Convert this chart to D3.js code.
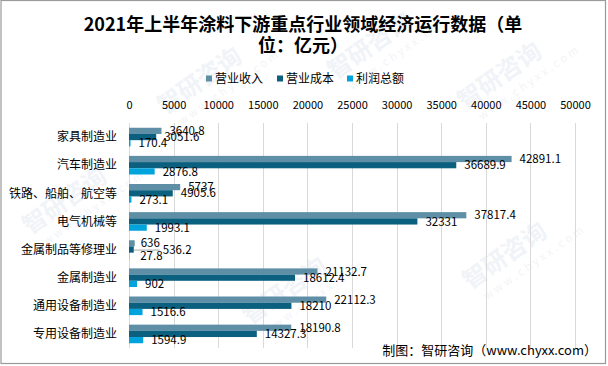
<!DOCTYPE html>
<html><head><meta charset="utf-8">
<script src="https://cdn.jsdelivr.net/npm/d3@7"></script>
<style>body{margin:0;background:#fff}svg{display:block}text{font-family:"Noto Sans CJK SC","Noto Sans",sans-serif}</style>
</head><body>
<svg id="c" width="608" height="366"></svg>
<script>
const categories = ["家具制造业","汽车制造业","铁路、船舶、航空等","电气机械等","金属制品等修理业","金属制造业","通用设备制造业","专用设备制造业"];
const seriesNames = ["营业收入","营业成本","利润总额"];
const revenue = [3640.8, 42891.1, 5737, 37817.4, 636, 21132.7, 22112.3, 18190.8];
const cost = [3051.6, 36689.9, 4905.6, 32331, 536.2, 18612.4, 18210, 14327.3];
const profit = [170.4, 2876.8, 273.1, 1993.1, 27.8, 902, 1516.6, 1594.9];
const tickValues = [0,5000,10000,15000,20000,25000,30000,35000,40000,45000,50000];
const colors = ["#5f8fa6","#0b5f7f","#00a3dc"];
const titleLines = ["2021年上半年涂料下游重点行业领域经济运行数据（单","位：亿元）"];
const footer = "制图：智研咨询（www.chyxx.com）";

const svg = d3.select("#c");

// faint watermarks
const wm = [[30,235],[165,115],[335,80],[465,110],[250,325],[470,290]];
wm.forEach(([x,y])=>{
  const g = svg.append("g").attr("transform",`translate(${x},${y}) rotate(-35)`).attr("opacity",0.45);
  g.append("text").attr("font-size",24).attr("font-weight","bold").attr("fill","#dfe6ee").text("智研咨询");
  g.append("text").attr("y",18).attr("x",8).attr("font-size",11).attr("letter-spacing",3).attr("fill","#e3e9f0").text("www.chyxx.com");
});

// border
svg.append("rect").attr("x",1).attr("y",0.5).attr("width",604.5).attr("height",363).attr("fill","none").attr("stroke","#9a9a9a").attr("stroke-width",1.2);

const x = d3.scaleLinear().domain([0,50000]).range([129,575]);
const y = d3.scaleBand().domain(categories).range([123,348]).paddingInner(0.338).paddingOuter(0.169);
const ys = d3.scaleBand().domain(seriesNames).range([0,y.bandwidth()]);

// gridlines
svg.append("g").selectAll("line").data(tickValues).join("line")
  .attr("x1",d=>Math.round(x(d))+0.5).attr("x2",d=>Math.round(x(d))+0.5)
  .attr("y1",123).attr("y2",348).attr("stroke","#d9d9d9").attr("stroke-width",1);

// top axis labels
const ax = d3.axisTop(x).tickValues(tickValues).tickSize(0).tickPadding(0).tickFormat(d3.format("d"));
const axg = svg.append("g").attr("transform","translate(0,109)").call(ax);
axg.select(".domain").remove();
axg.selectAll("text").attr("font-size",11).attr("fill","#000").attr("font-family","\"Noto Sans CJK SC\",sans-serif");

// category labels
svg.append("g").selectAll("text").data(categories).join("text")
  .attr("x",117).attr("y",d=>y(d)+y.bandwidth()/2).attr("dy","0.35em")
  .attr("text-anchor","end").attr("font-size",12).attr("fill","#000").text(d=>d);

const seriesData = [revenue,cost,profit];
const labelDx = {"金属制品等修理业":[6,29,11]};

seriesNames.forEach((s,si)=>{
  const vals = seriesData[si];
  const rows = categories.map((c,i)=>({c,v:vals[i]}));
  svg.append("g").selectAll("rect").data(rows).join("rect")
    .attr("x",x(0)).attr("y",d=>y(d.c)+ys(s))
    .attr("width",d=>x(d.v)-x(0)).attr("height",ys.bandwidth())
    .attr("fill",colors[si]);
  svg.append("g").selectAll("text").data(rows).join("text")
    .attr("x",d=>x(d.v)+((labelDx[d.c]||[8,8,8])[si]))
    .attr("y",d=>y(d.c)+ys(s)+ys.bandwidth()/2).attr("dy","0.36em")
    .attr("font-size",11.5).attr("fill","#000").text(d=>d.v);
  rows.forEach(d=>{
    const dx = (labelDx[d.c]||[8,8,8])[si];
    if(dx>20){
      const yy = y(d.c)+ys(s)+ys.bandwidth()/2+0.5;
      svg.append("line").attr("x1",x(d.v)).attr("x2",x(d.v)+dx-3).attr("y1",yy).attr("y2",yy)
        .attr("stroke","#a6a6a6").attr("stroke-width",1);
    }
  });
});

// title
svg.append("g").selectAll("text").data(titleLines).join("text")
  .attr("x",303).attr("y",(d,i)=>25+i*21).attr("dy","0.35em").attr("text-anchor","middle")
  .attr("font-size",18).attr("font-weight","bold").attr("fill","#000").text(d=>d);

// legend
const legX = [206,277,347];
const lg = svg.append("g").selectAll("g").data(seriesNames).join("g")
  .attr("transform",(d,i)=>`translate(${legX[i]},79)`);
lg.append("rect").attr("x",0).attr("y",-3.5).attr("width",6).attr("height",6).attr("fill",(d,i)=>colors[i]);
lg.append("text").attr("x",9).attr("dy","0.35em").attr("font-size",12).attr("fill","#000").text(d=>d);

// footer
svg.append("text").attr("x",597).attr("y",350).attr("dy","0.35em").attr("text-anchor","end")
  .attr("font-size",13).attr("fill","#000").text(footer);
</script>
</body></html>
